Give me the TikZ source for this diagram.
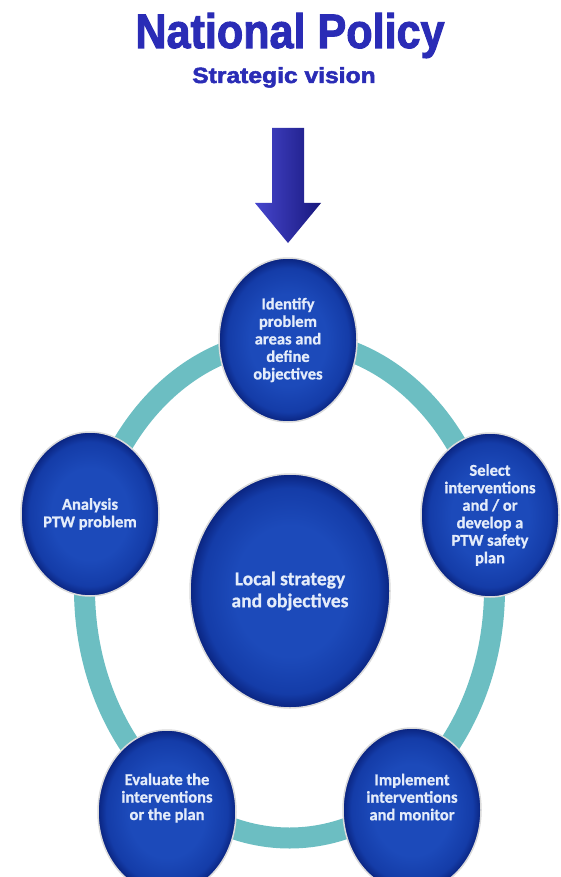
\documentclass[tikz,border=0pt]{standalone}
\usepackage{fontspec}
\setmainfont{Liberation Sans}
\newfontfamily\discfont{Carlito}[BoldFeatures={FakeBold=0.8}]
\newfontfamily\titlefont{Liberation Sans}[BoldFeatures={FakeBold=2.2}]
\usetikzlibrary{shapes.geometric}
\definecolor{ringteal}{RGB}{108,190,194}
\definecolor{discin}{RGB}{28,74,186}
\definecolor{discmid}{RGB}{20,60,168}
\definecolor{discout}{RGB}{10,36,128}
\definecolor{disctext}{RGB}{228,236,250}
\definecolor{titleblue}{RGB}{42,44,182}
\definecolor{arrowlight}{RGB}{70,70,205}
\definecolor{arrowmid}{RGB}{40,40,165}
\definecolor{arrowdark}{RGB}{24,24,125}
\pgfdeclareradialshading{discshade}{\pgfpoint{0bp}{0bp}}{color(0bp)=(discin); color(14bp)=(discin); color(22bp)=(discmid); color(25bp)=(discout); color(50bp)=(discout)}
\tikzset{
  disc/.style={ellipse, minimum width=138pt, minimum height=164pt, inner sep=0pt,
    shade, shading=discshade, draw=black!14, line width=1.5pt,
    text=disctext, align=center,
    font=\discfont\bfseries\fontsize{16.5}{17.5}\selectfont},
  bigdisc/.style={disc, minimum width=200pt, minimum height=234pt,
    font=\discfont\bfseries\fontsize{19.5}{22}\selectfont},
  disclabel/.style={text=disctext, align=center, inner sep=0pt,
    font=\discfont\bfseries\fontsize{16.5}{17.5}\selectfont},
  ringline/.style={draw=ringteal, line width=21pt},
  titletext/.style={text=titleblue, anchor=base, inner sep=0pt},
  bigarrow/.style={left color=arrowlight, middle color=arrowmid, right color=arrowdark},
}
\begin{document}
\begin{tikzpicture}[x=1pt,y=-1pt]
  \path[use as bounding box] (0,0) rectangle (561,877);
  \clip (0,0) rectangle (561,877);
  \fill[white] (0,0) rectangle (561,877);

  % title
  \node[titletext, font=\titlefont\bfseries\fontsize{44}{44}\selectfont] (title) at (290,48)
    {\scalebox{0.98}[1.1]{National Policy}};
  \node[titletext, font=\titlefont\bfseries\fontsize{22}{22}\selectfont] (sub) at (284,83)
    {\scalebox{1.12}[1]{Strategic vision}};

  % ring
  \draw[ringline] (289.5,589) ellipse [x radius=205, y radius=249];

  % big arrow
  \coordinate (atl) at (272,128);
  \coordinate (atr) at (304,128);
  \coordinate (tip) at (288,243);
  \shade[bigarrow] (atl) -- (atr) -- (304,203) -- (321,203) -- (tip)
    -- (255,203) -- (272,203) -- cycle;

  % discs
  \node[disc] (ident) at (288,340) {Identify\\problem\\areas and\\define\\objectives};
  \node[disc] (analysis) at (90,514) {Analysis\\PTW problem};
  \node[disc] (select) at (490,515) {Select\\interventions\\and / or\\develop a\\PTW safety\\plan};
  \node[disc, label={[disclabel, yshift=14pt]center:{Evaluate the\\interventions\\or the plan}}] (eval) at (167,812) {};
  \node[disc, label={[disclabel, yshift=13pt]center:{Implement\\interventions\\and monitor}}] (impl) at (412,810) {};
  \node[bigdisc] (local) at (290,591) {Local strategy\\and objectives};
\end{tikzpicture}
\end{document}
